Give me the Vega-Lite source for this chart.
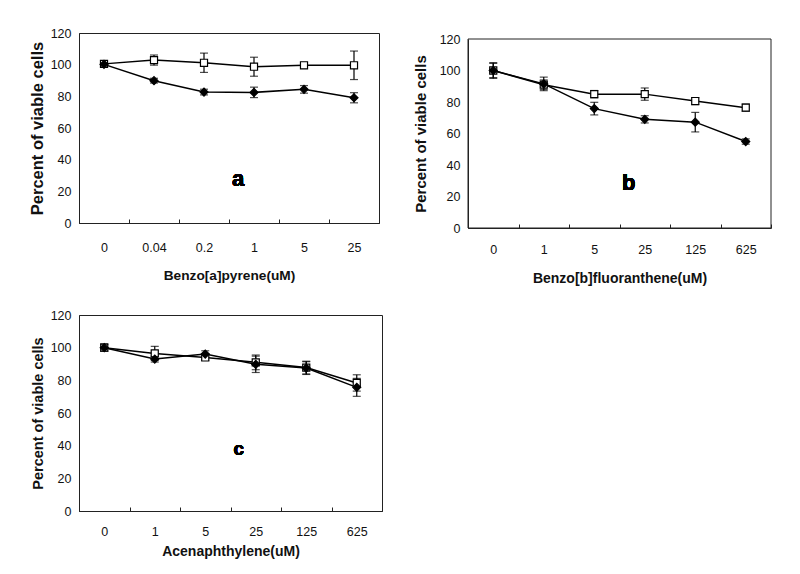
{
  "$schema": "https://vega.github.io/schema/vega-lite/v6.json",
  "padding": {"left": 28, "top": 26, "right": 5, "bottom": 5},
  "background": "white",
  "datasets": {
    "a": [
      {"d": "0", "s": "S2", "v": 100.5, "e": 1.8},
      {"d": "0.04", "s": "S2", "v": 102.9, "e": 3.2},
      {"d": "0.2", "s": "S2", "v": 101.2, "e": 6.1},
      {"d": "1", "s": "S2", "v": 98.7, "e": 6.0},
      {"d": "5", "s": "S2", "v": 99.6, "e": 1.8},
      {"d": "25", "s": "S2", "v": 99.6, "e": 9.0},
      {"d": "0", "s": "S1", "v": 100.2, "e": 1.5},
      {"d": "0.04", "s": "S1", "v": 89.9, "e": 1.5},
      {"d": "0.2", "s": "S1", "v": 82.7, "e": 1.8},
      {"d": "1", "s": "S1", "v": 82.5, "e": 3.3},
      {"d": "5", "s": "S1", "v": 84.4, "e": 2.4},
      {"d": "25", "s": "S1", "v": 79.1, "e": 3.2}
    ],
    "b": [
      {"d": "0", "s": "S2", "v": 100.0, "e": 5.0},
      {"d": "1", "s": "S2", "v": 91.0, "e": 3.0},
      {"d": "5", "s": "S2", "v": 85.0, "e": 2.3},
      {"d": "25", "s": "S2", "v": 85.0, "e": 3.9},
      {"d": "125", "s": "S2", "v": 80.6, "e": 2.2},
      {"d": "625", "s": "S2", "v": 76.4, "e": 2.3},
      {"d": "0", "s": "S1", "v": 100.0, "e": 4.5},
      {"d": "1", "s": "S1", "v": 91.5, "e": 4.3},
      {"d": "5", "s": "S1", "v": 75.8, "e": 4.0},
      {"d": "25", "s": "S1", "v": 69.0, "e": 2.3},
      {"d": "125", "s": "S1", "v": 67.2, "e": 6.2},
      {"d": "625", "s": "S1", "v": 54.9, "e": 1.7}
    ],
    "c": [
      {"d": "0", "s": "S2", "v": 100.0, "e": 2.3},
      {"d": "1", "s": "S2", "v": 96.5, "e": 4.3},
      {"d": "5", "s": "S2", "v": 94.0, "e": 1.7},
      {"d": "25", "s": "S2", "v": 91.0, "e": 4.5},
      {"d": "125", "s": "S2", "v": 87.8, "e": 3.9},
      {"d": "625", "s": "S2", "v": 78.4, "e": 5.0},
      {"d": "0", "s": "S1", "v": 100.0, "e": 2.0},
      {"d": "1", "s": "S1", "v": 93.0, "e": 1.8},
      {"d": "5", "s": "S1", "v": 96.1, "e": 2.0},
      {"d": "25", "s": "S1", "v": 89.8, "e": 5.0},
      {"d": "125", "s": "S1", "v": 87.5, "e": 3.9},
      {"d": "625", "s": "S1", "v": 75.7, "e": 5.5}
    ]
  },
  "columns": 2,
  "spacing": {"row": 22, "column": 30},
  "concat": [
    {
      "width": 300,
      "height": 190,
      "data": {"name": "a"},
      "encoding": {
        "x": {
          "field": "d", "type": "nominal",
          "sort": ["0", "0.04", "0.2", "1", "5", "25"],
          "scale": {"type": "band", "paddingInner": 0, "paddingOuter": 0},
          "axis": {"title": "Benzo[a]pyrene(uM)", "titleFontSize": 13.7, "titlePadding": 15, "tickBand": "extent", "tickSize": -4, "labelPadding": 22, "labelAngle": 0}
        },
        "y": {"field": "v", "type": "quantitative", "scale": {"domain": [0, 120], "nice": false}, "axis": {"title": "Percent of viable cells", "titleFontSize": 16.5, "titlePadding": 5, "values": [0, 20, 40, 60, 80, 100, 120], "labelOverlap": false}}
      },
      "layer": [
        {
          "mark": {"type": "line", "color": "black", "strokeWidth": 1.5},
          "encoding": {"detail": {"field": "s"}}
        },
        {
          "mark": {"type": "errorbar", "ticks": {"size": 8, "color": "black", "thickness": 1.2}, "rule": {"color": "black", "strokeWidth": 1.2}},
          "encoding": {"yError": {"field": "e"}, "detail": {"field": "s"}}
        },
        {
          "mark": {"type": "point", "filled": true, "stroke": "black", "strokeWidth": 1.2, "opacity": 1},
          "encoding": {
            "shape": {"field": "s", "type": "nominal", "scale": {"domain": ["S1", "S2"], "range": ["diamond", "square"]}, "legend": null},
            "fill": {"field": "s", "type": "nominal", "scale": {"domain": ["S1", "S2"], "range": ["black", "white"]}, "legend": null},
            "size": {"field": "s", "type": "nominal", "scale": {"domain": ["S1", "S2"], "range": [64, 50]}, "legend": null}
          }
        },
        {
          "mark": {"type": "text", "text": "a", "fontSize": 22, "fontWeight": "bold", "color": "black", "dx": -16, "baseline": "middle"},
          "encoding": {"x": {"datum": "1"}, "y": {"datum": 28}}
        }
      ]
    },
    {
      "width": 303,
      "height": 195,
      "view": {"stroke": null},
      "data": {"name": "b"},
      "encoding": {
        "x": {
          "field": "d", "type": "nominal",
          "sort": ["0", "1", "5", "25", "125", "625"],
          "scale": {"type": "band", "paddingInner": 0, "paddingOuter": 0},
          "axis": {"title": "Benzo[b]fluoranthene(uM)", "titleFontSize": 14, "titlePadding": 16, "tickBand": "extent", "tickSize": -4, "labelPadding": 19, "labelAngle": 0}
        },
        "y": {"field": "v", "type": "quantitative", "scale": {"domain": [0, 120], "nice": false, "range": [195, 6]}, "axis": {"title": "Percent of viable cells", "titleFontSize": 15, "titlePadding": 11, "values": [0, 20, 40, 60, 80, 100, 120], "labelOverlap": false}}
      },
      "layer": [
        {
          "transform": [{"filter": "datum.d == '0' && datum.s == 'S1'"}],
          "mark": {"type": "rect", "fill": null, "fillOpacity": 0, "stroke": "#222", "strokeWidth": 1},
          "encoding": {"x": {"value": 0}, "x2": {"value": "width"}, "y": {"datum": 120}, "y2": {"datum": 0}}
        },
        {
          "mark": {"type": "line", "color": "black", "strokeWidth": 1.5},
          "encoding": {"detail": {"field": "s"}}
        },
        {
          "mark": {"type": "errorbar", "ticks": {"size": 8, "color": "black", "thickness": 1.2}, "rule": {"color": "black", "strokeWidth": 1.2}},
          "encoding": {"yError": {"field": "e"}, "detail": {"field": "s"}}
        },
        {
          "mark": {"type": "point", "filled": true, "stroke": "black", "strokeWidth": 1.2, "opacity": 1},
          "encoding": {
            "shape": {"field": "s", "type": "nominal", "scale": {"domain": ["S1", "S2"], "range": ["diamond", "square"]}, "legend": null},
            "fill": {"field": "s", "type": "nominal", "scale": {"domain": ["S1", "S2"], "range": ["black", "white"]}, "legend": null},
            "size": {"field": "s", "type": "nominal", "scale": {"domain": ["S1", "S2"], "range": [64, 50]}, "legend": null}
          }
        },
        {
          "mark": {"type": "text", "text": "b", "fontSize": 22, "fontWeight": "bold", "color": "black", "dx": -16, "baseline": "middle"},
          "encoding": {"x": {"datum": "25"}, "y": {"datum": 28.6}}
        }
      ]
    },
    {
      "width": 303,
      "height": 196,
      "data": {"name": "c"},
      "encoding": {
        "x": {
          "field": "d", "type": "nominal",
          "sort": ["0", "1", "5", "25", "125", "625"],
          "scale": {"type": "band", "paddingInner": 0, "paddingOuter": 0},
          "axis": {"title": "Acenaphthylene(uM)", "titleFontSize": 14, "titlePadding": 7, "tickBand": "extent", "tickSize": -4, "labelPadding": 18, "labelAngle": 0}
        },
        "y": {"field": "v", "type": "quantitative", "scale": {"domain": [0, 120], "nice": false}, "axis": {"title": "Percent of viable cells", "titleFontSize": 14.5, "titlePadding": 5, "values": [0, 20, 40, 60, 80, 100, 120], "labelOverlap": false}}
      },
      "layer": [
        {
          "mark": {"type": "line", "color": "black", "strokeWidth": 1.5},
          "encoding": {"detail": {"field": "s"}}
        },
        {
          "mark": {"type": "errorbar", "ticks": {"size": 8, "color": "black", "thickness": 1.2}, "rule": {"color": "black", "strokeWidth": 1.2}},
          "encoding": {"yError": {"field": "e"}, "detail": {"field": "s"}}
        },
        {
          "mark": {"type": "point", "filled": true, "stroke": "black", "strokeWidth": 1.2, "opacity": 1},
          "encoding": {
            "shape": {"field": "s", "type": "nominal", "scale": {"domain": ["S1", "S2"], "range": ["diamond", "square"]}, "legend": null},
            "fill": {"field": "s", "type": "nominal", "scale": {"domain": ["S1", "S2"], "range": ["black", "white"]}, "legend": null},
            "size": {"field": "s", "type": "nominal", "scale": {"domain": ["S1", "S2"], "range": [64, 50]}, "legend": null}
          }
        },
        {
          "mark": {"type": "text", "text": "c", "fontSize": 19, "fontWeight": "bold", "color": "black", "dx": -17, "baseline": "middle"},
          "encoding": {"x": {"datum": "25"}, "y": {"datum": 37.8}}
        }
      ]
    }
  ],
  "resolve": {"scale": {"shape": "independent", "fill": "independent", "size": "independent"}},
  "config": {
    "font": "Liberation Sans",
    "view": {"stroke": "#222", "strokeWidth": 1},
    "axis": {
      "labelFont": "Liberation Sans", "labelFontSize": 12.5, "labelColor": "#111",
      "titleFont": "Liberation Sans", "titleFontWeight": "bold", "titleColor": "#111",
      "domainColor": "#222", "tickColor": "#222", "grid": false
    },
    "axisY": {"ticks": false, "labelPadding": 8}
  }
}
